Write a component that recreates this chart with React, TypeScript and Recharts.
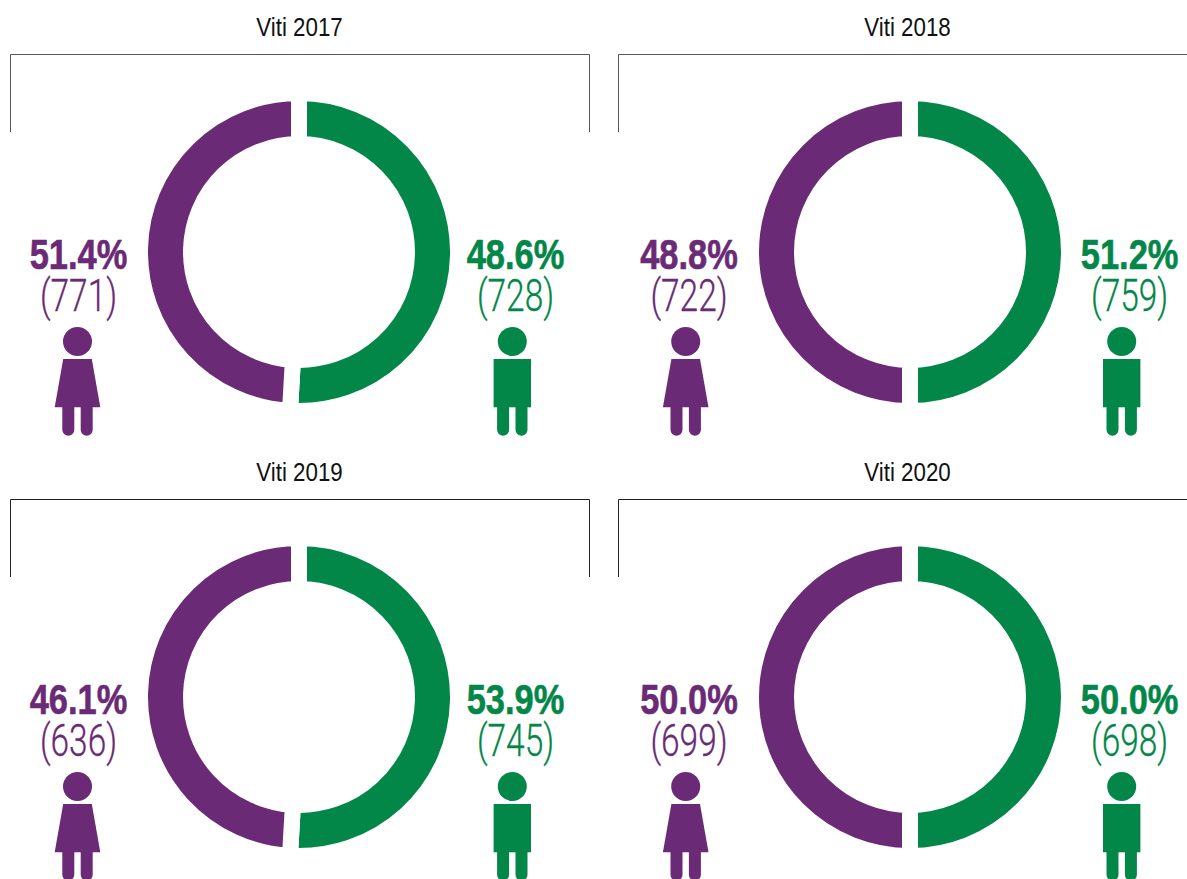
import { PieChart, Pie, Cell } from 'recharts';

const years = ['Viti 2017', 'Viti 2018', 'Viti 2019', 'Viti 2020'];
const femalePct = ['51.4%', '48.8%', '46.1%', '50.0%'];
const malePct = ['48.6%', '51.2%', '53.9%', '50.0%'];
const femaleCount = ['(771)', '(722)', '(636)', '(699)'];
const maleCount = ['(728)', '(759)', '(745)', '(698)'];
// share of the ring as it is drawn in the picture
const maleRing = [50.9, 50, 50.9, 50];
const femaleRing = [49.1, 50, 49.1, 50];

const PURPLE = '#6a2a75';
const GREEN = '#038749';
const FONT = '"Liberation Sans", sans-serif';

const left = [
  { x: 299, y: 252, lineLeft: 10, lineRight: 589, title: 0.5, pctL: -220.5, pctR: 216.5, manL: -221.5, manR: 213.3 },
  { x: 910, y: 252, lineLeft: 618, lineRight: 1187, title: -2.5, pctL: -221, pctR: 219.6, manL: -224.3, manR: 211.7 },
  { x: 299, y: 697, lineLeft: 10, lineRight: 589, title: 0.5, pctL: -220.5, pctR: 216.5, manL: -221.5, manR: 213.3 },
  { x: 910, y: 697, lineLeft: 618, lineRight: 1187, title: -2.5, pctL: -221, pctR: 219.6, manL: -224.3, manR: 211.7 },
];

function Label({ x, y, sx, size, weight, fill, sw = 0, family, children }: any) {
  return (
    <text
      transform={`translate(${x},${y}) scale(${sx},1)`}
      textAnchor="middle"
      fontSize={size}
      fontWeight={weight}
      fontFamily={family}
      fill={fill}
      stroke={sw ? fill : 'none'}
      strokeWidth={sw}
    >
      {children}
    </text>
  );
}

function Person({ x, y, color, female }: { x: number; y: number; color: string; female: boolean }) {
  return (
    <g transform={`translate(${x},${y})`} fill={color}>
      <circle cx={0} cy={0} r={14.5} />
      {female ? (
        <path d="M-14.3,17.5 H14.3 L22.8,65.8 H-22.8 Z" />
      ) : (
        <rect x={-18.7} y={17.5} width={37.4} height={48.3} />
      )}
      <path d="M-15.2,65 H-3.2 V88.2 a6,6 0 0 1 -12,0 Z" />
      <path d="M3.2,65 H15.2 V88.2 a6,6 0 0 1 -12,0 Z" />
    </g>
  );
}

function Panel({ i }: { i: number }) {
  const c = left[i];
  const data = [
    { name: 'Meshkuj', value: maleRing[i], color: GREEN },
    { name: 'Femra', value: femaleRing[i], color: PURPLE },
  ];
  const size = 340;
  const closed = i % 2 === 0;
  return (
    <>
      <div style={{ position: 'absolute', left: c.x - size / 2, top: c.y - size / 2, width: size, height: size }}>
        <PieChart width={size} height={size} margin={{ top: 0, right: 0, bottom: 0, left: 0 }}>
          <Pie
            data={data}
            dataKey="value"
            cx="50%"
            cy="50%"
            startAngle={90}
            endAngle={-270}
            innerRadius={108}
            outerRadius={159}
            stroke="#ffffff"
            strokeWidth={16}
            isAnimationActive={false}
          >
            {data.map((d) => (
              <Cell key={d.name} fill={d.color} stroke="#ffffff" strokeWidth={16} />
            ))}
          </Pie>
        </PieChart>
      </div>
      <svg width={1187} height={879} style={{ position: 'absolute', left: 0, top: 0, pointerEvents: 'none' }}>
        <Label x={c.x + c.title} y={c.y - 216} sx={0.86} size={26} weight={400} fill="#111111" family={FONT}>
          {years[i]}
        </Label>
        <path
          d={`M${c.lineLeft + 0.5},${c.y - 120} V${c.y - 197.5} H${c.lineRight + 0.5}${closed ? ` V${c.y - 120}` : ''}`}
          fill="none"
          stroke={i < 2 ? '#555555' : '#222222'}
          strokeWidth={1}
        />
        <Label x={c.x + c.pctL} y={c.y + 17} sx={0.82} size={42} weight={700} fill={PURPLE} sw={0.6} family={FONT}>
          {femalePct[i]}
        </Label>
        <Label x={c.x + c.pctL} y={c.y + 59} sx={0.76} size={44} weight={300} fill={PURPLE} sw={0.3} family="Roboto">
          {femaleCount[i]}
        </Label>
        <Label x={c.x + c.pctR} y={c.y + 17} sx={0.82} size={42} weight={700} fill={GREEN} sw={0.6} family={FONT}>
          {malePct[i]}
        </Label>
        <Label x={c.x + c.pctR} y={c.y + 59} sx={0.76} size={44} weight={300} fill={GREEN} sw={0.3} family="Roboto">
          {maleCount[i]}
        </Label>
        <Person x={c.x + c.manL} y={c.y + 89.5} color={PURPLE} female />
        <Person x={c.x + c.manR} y={c.y + 89.5} color={GREEN} female={false} />
      </svg>
    </>
  );
}

export default function App() {
  return (
    <div style={{ position: 'absolute', left: 0, top: 0, width: 1187, height: 879, overflow: 'hidden', background: '#fff' }}>
      {years.map((y, i) => (
        <Panel key={y} i={i} />
      ))}
    </div>
  );
}
